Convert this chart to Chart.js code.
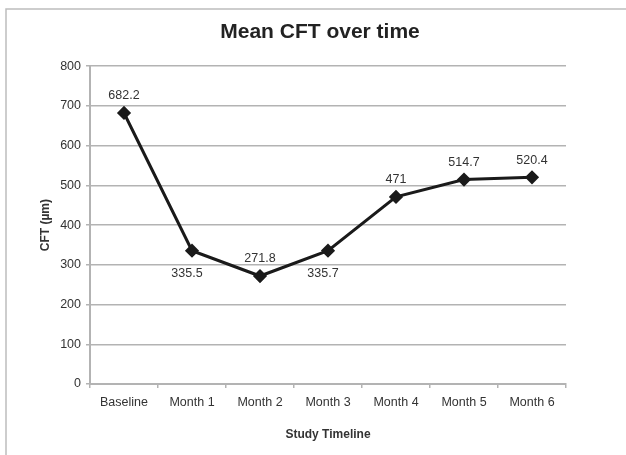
<!DOCTYPE html>
<html>
<head>
<meta charset="utf-8">
<script src="https://cdn.jsdelivr.net/npm/chart.js@4.4.0/dist/chart.umd.min.js"></script>
<style>
  html, body { margin: 0; padding: 0; background: #fff; }
  #wrap { width: 626px; height: 455px; position: relative; }
</style>
</head>
<body>
<div id="wrap"><canvas id="cftChart" width="626" height="455"></canvas></div>
<script>
const categories = ['Baseline', 'Month 1', 'Month 2', 'Month 3', 'Month 4', 'Month 5', 'Month 6'];
const meanCft = [682.2, 335.5, 271.8, 335.7, 471, 514.7, 520.4];
const labelSide = ['above', 'below', 'above', 'below', 'above', 'above', 'above'];
const yTicks = [0, 100, 200, 300, 400, 500, 600, 700, 800];

const FONT = '"Liberation Sans", Arial, sans-serif';
const GRID = '#b3b3b3';

// draws the value next to each marker
const valueLabels = {
  id: 'valueLabels',
  afterDatasetsDraw(chart) {
    const ctx = chart.ctx;
    const meta = chart.getDatasetMeta(0);
    ctx.save();
    ctx.font = '12.5px ' + FONT;
    ctx.fillStyle = '#333';
    ctx.textAlign = 'center';
    ctx.textBaseline = 'middle';
    meta.data.forEach((pt, i) => {
      const dy = labelSide[i] === 'above' ? -17 : 23;
      ctx.fillText(String(meanCft[i]), pt.x - (labelSide[i] === 'below' ? 5 : 0), pt.y + dy);
    });
    ctx.restore();
  }
};

// light frame round the chart, like the exported image
const frame = {
  id: 'frame',
  beforeDraw(chart) {
    const ctx = chart.ctx;
    ctx.save();
    ctx.strokeStyle = '#bdbdbd';
    ctx.lineWidth = 1.5;
    ctx.beginPath();
    ctx.moveTo(6, 460);
    ctx.lineTo(6, 9);
    ctx.lineTo(630, 9);
    ctx.stroke();
    ctx.restore();
  }
};

const ctx = document.getElementById('cftChart').getContext('2d');
new Chart(ctx, {
  type: 'line',
  data: {
    labels: categories,
    datasets: [{
      label: 'Mean CFT',
      data: meanCft,
      borderColor: '#1a1a1a',
      backgroundColor: '#1a1a1a',
      borderWidth: 3,
      pointStyle: 'rectRot',
      pointRadius: 5,
      pointHoverRadius: 5,
      tension: 0,
      fill: false
    }]
  },
  options: {
    responsive: false,
    animation: false,
    events: [],
    layout: { padding: { left: 14, right: 0, top: 0, bottom: 0 } },
    plugins: {
      legend: { display: false },
      tooltip: { enabled: false },
      title: {
        display: true,
        text: 'Mean CFT over time',
        color: '#222',
        font: { family: FONT, size: 21, weight: 'bold' },
        padding: { top: 20, bottom: 21 }
      }
    },
    scales: {
      x: {
        offset: true,
        grid: { offset: true, drawOnChartArea: false, drawTicks: true, tickLength: 4, color: GRID, lineWidth: 1.5 },
        border: { color: GRID, width: 2 },
        ticks: { color: '#333', font: { family: FONT, size: 12.5 }, padding: 7, maxRotation: 0 },
        title: {
          display: true,
          text: 'Study Timeline',
          color: '#333',
          font: { family: FONT, size: 12, weight: 'bold' },
          padding: { top: 0, bottom: 13 }
        },
        afterFit(scale) { scale.height = 71; }
      },
      y: {
        min: 0,
        max: 800,
        afterBuildTicks(scale) { scale.ticks = yTicks.map(v => ({ value: v })); },
        grid: { color: GRID, lineWidth: 1.5, tickLength: 4 },
        border: { color: GRID, width: 2 },
        ticks: { color: '#333', font: { family: FONT, size: 12.5 }, padding: 5 },
        title: {
          display: true,
          text: 'CFT (µm)',
          color: '#333',
          font: { family: FONT, size: 12, weight: 'bold' },
          padding: { top: 24, bottom: 0 }
        },
        afterFit(scale) { scale.width = 76; }
      },
      // empty right-hand axis: keeps the plot narrower while the title stays centred on the page
      spacer: {
        type: 'linear',
        position: 'right',
        display: true,
        grid: { drawOnChartArea: false, drawTicks: false },
        border: { display: false },
        ticks: { display: false },
        afterFit(scale) { scale.width = 60; }
      }
    }
  },
  plugins: [frame, valueLabels]
});
</script>
</body>
</html>
